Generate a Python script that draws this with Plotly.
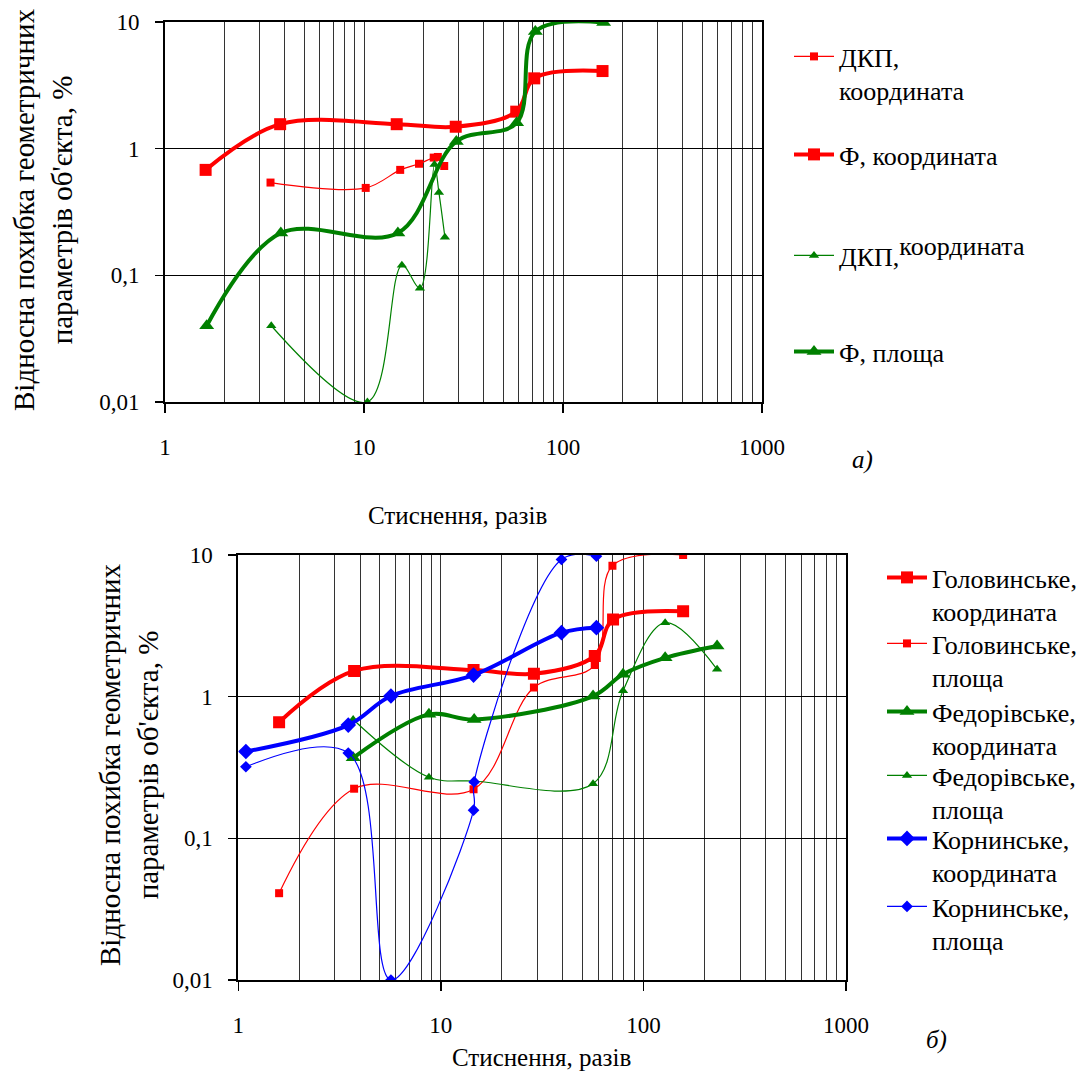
import plotly.graph_objects as go

W, H = 1087, 1075
FONT = "Liberation Serif"

# ---------- Top chart (a) data ----------
a_dkp_coord_x = [3.39, 10.2, 15.2, 18.9, 22.4, 23.5, 25.3]
a_dkp_coord_y = [0.54, 0.49, 0.68, 0.76, 0.85, 0.86, 0.73]
a_f_coord_x = [1.60, 3.79, 14.6, 28.9, 58.2, 71.7, 158]
a_f_coord_y = [0.68, 1.56, 1.56, 1.49, 1.96, 3.59, 4.1]
a_dkp_area_x = [3.42, 10.4, 15.5, 19.1, 22.6, 23.8, 25.5]
a_dkp_area_y = [0.04, 0.01, 0.12, 0.079, 0.75, 0.45, 0.2]
a_f_area_x = [1.62, 3.82, 14.8, 29.1, 58.5, 72.6, 160]
a_f_area_y = [0.04, 0.216, 0.216, 1.14, 1.6, 8.4, 9.9]

# ---------- Bottom chart (б) data ----------
b_gol_coord_x = [1.59, 3.73, 14.5, 28.8, 57.5, 70.8, 157]
b_gol_coord_y = [0.66, 1.52, 1.54, 1.45, 1.94, 3.5, 4.0]
b_gol_area_x = [1.59, 3.73, 14.5, 28.8, 57.5, 70.3, 157]
b_gol_area_y = [0.041, 0.224, 0.222, 1.16, 1.67, 8.4, 10.0]
b_fed_coord_x = [3.69, 8.73, 14.6, 56.4, 79.3, 128, 231]
b_fed_coord_y = [0.37, 0.75, 0.69, 1.01, 1.44, 1.88, 2.28]
b_fed_area_x = [3.69, 8.73, 14.6, 56.4, 79.3, 128, 231]
b_fed_area_y = [0.69, 0.27, 0.254, 0.243, 1.1, 3.33, 1.56]
b_kor_coord_x = [1.09, 3.49, 5.67, 14.5, 39.4, 58.6]
b_kor_coord_y = [0.41, 0.63, 1.01, 1.42, 2.83, 3.07]
b_kor_area_x = [1.09, 3.49, 5.67, 14.5, 14.6, 39.4, 58.6]
b_kor_area_y = [0.32, 0.40, 0.01, 0.158, 0.25, 9.3, 9.8]

y_tickvals = [0.01, 0.1, 1, 10]
y_ticktext = ["0,01", "0,1", "1", "10"]
x_tickvals = [1, 10, 100, 1000]
x_ticktext = ["1", "10", "100", "1000"]

RED, GREEN, BLUE = "#FF0000", "#008000", "#0000FF"
LEGFONT = 26

fig = go.Figure()


def add(x, y, name, color, width, symbol, size, xa, ya, legend):
    fig.add_trace(go.Scatter(
        x=x, y=y, name=name, mode="lines+markers",
        line=dict(color=color, width=width, shape="spline", smoothing=1.0),
        marker=dict(color=color, symbol=symbol, size=size),
        xaxis=xa, yaxis=ya, legend=legend, cliponaxis=True))


# top
add(a_dkp_coord_x, a_dkp_coord_y, "ДКП,<br>координата", RED, 1.2, "square", 8, "x", "y", "legend")
add(a_f_coord_x, a_f_coord_y, "Ф, координата", RED, 4, "square", 12, "x", "y", "legend2")
add(a_dkp_area_x, a_dkp_area_y,
    "ДКП,<sup><span style=\"font-size:%dpx\">координата</span></sup>" % LEGFONT,
    GREEN, 1.2, "triangle-up", 9, "x", "y", "legend3")
add(a_f_area_x, a_f_area_y, "Ф, площа", GREEN, 4, "triangle-up", 13, "x", "y", "legend4")
# bottom
add(b_gol_coord_x, b_gol_coord_y, "Головинське,<br>координата", RED, 4, "square", 12, "x2", "y2", "legend5")
add(b_gol_area_x, b_gol_area_y, "Головинське,<br>площа", RED, 1.2, "square", 8, "x2", "y2", "legend6")
add(b_fed_coord_x, b_fed_coord_y, "Федорівське,<br>координата", GREEN, 4, "triangle-up", 13, "x2", "y2", "legend7")
add(b_fed_area_x, b_fed_area_y, "Федорівське,<br>площа", GREEN, 1.2, "triangle-up", 9, "x2", "y2", "legend8")
add(b_kor_coord_x, b_kor_coord_y, "Корнинське,<br>координата", BLUE, 4, "diamond", 12, "x2", "y2", "legend9")
add(b_kor_area_x, b_kor_area_y, "Корнинське,<br>площа", BLUE, 1.2, "diamond", 9, "x2", "y2", "legend10")


def xaxis(dom, anchor):
    return dict(type="log", range=[0, 3], domain=dom, anchor=anchor, automargin=False,
                tickvals=x_tickvals, ticktext=x_ticktext,
                ticks="outside", ticklen=9, tickcolor="black", tickwidth=1.5,
                ticklabelstandoff=14,
                showline=True, linecolor="black", linewidth=2, mirror=True,
                showgrid=True, gridcolor="#333333", gridwidth=1,
                minor=dict(dtick="D1", showgrid=True, gridcolor="#333333", gridwidth=1, ticks=""),
                tickfont=dict(family=FONT, size=23, color="black"), zeroline=False)


def yaxis(dom, anchor):
    return dict(type="log", range=[-2, 1], domain=dom, anchor=anchor, automargin=False,
                tickvals=y_tickvals, ticktext=y_ticktext,
                ticks="outside", ticklen=8, tickcolor="black", tickwidth=1.5,
                ticklabelstandoff=11,
                showline=True, linecolor="black", linewidth=2, mirror=True,
                showgrid=True, gridcolor="black", gridwidth=1.5,
                tickfont=dict(family=FONT, size=23, color="black"), zeroline=False)


def px_x(p):
    return p / W


def px_y(p):
    return 1 - p / H


layout_legends = {}


def leg(key, xpx, ypx, size):
    layout_legends[key] = dict(x=px_x(xpx), y=px_y(ypx), xref="container", yref="container",
                               xanchor="left", yanchor="top",
                               valign="top", bgcolor="rgba(0,0,0,0)", itemwidth=40,
                               font=dict(family=FONT, size=size, color="black"),
                               tracegroupgap=0, itemclick=False, itemdoubleclick=False)


for i, ypx in enumerate([33, 131, 232, 328]):
    leg("legend" if i == 0 else "legend%d" % (i + 1), 789, ypx, LEGFONT)
for i, ypx in enumerate([554, 620, 688, 752, 815, 883]):
    leg("legend%d" % (i + 5), 882, ypx, LEGFONT)

YT = "Відносна похибка геометричних<br>параметрів об'єкта, %"


def ann(text, xpx, ypx, size, angle=0):
    return dict(text=text, textangle=angle, x=px_x(xpx), y=px_y(ypx),
                xref="paper", yref="paper", xanchor="center", yanchor="middle",
                showarrow=False, font=dict(family=FONT, size=size, color="black"))


annotations = [
    ann(YT, 43, 210, 29, -90),
    ann(YT, 129, 765, 29, -90),
    ann("Стиснення, разів", 457, 515, 25),
    ann("Стиснення, разів", 541, 1057, 25),
    ann("<i>а)</i>", 862, 460, 25),
    ann("<i>б)</i>", 936, 1040, 25),
]

fig.update_layout(
    width=W, height=H, margin=dict(l=0, r=0, t=0, b=0, autoexpand=False),
    paper_bgcolor="white", plot_bgcolor="white",
    xaxis=xaxis([px_x(165), px_x(762)], "y"),
    yaxis=yaxis([px_y(402), px_y(22)], "x"),
    xaxis2=xaxis([px_x(238.3), px_x(846)], "y2"),
    yaxis2=yaxis([px_y(980), px_y(555)], "x2"),
    annotations=annotations,
    showlegend=True,
    hovermode=False,
    **layout_legends,
)

fig.write_html("out.html",
               config={"displayModeBar": False, "staticPlot": True},
               post_script="document.body.style.margin='0px';"
                           "document.body.style.overflow='hidden';")
